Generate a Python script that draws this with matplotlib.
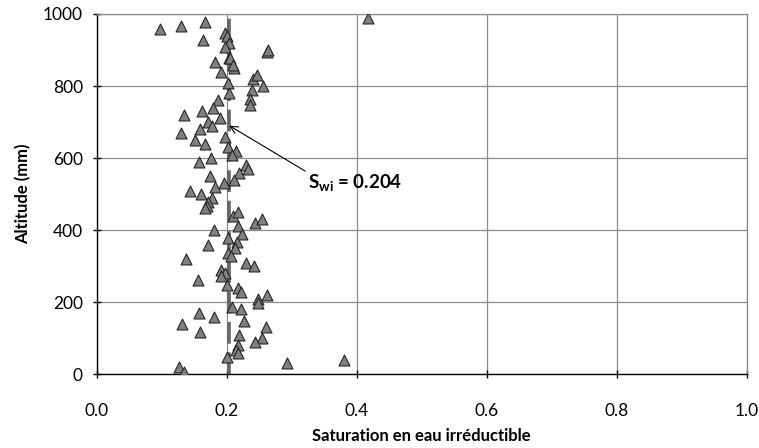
import matplotlib
matplotlib.use("Agg")
from matplotlib import pyplot as plt

# Saturation irréductible mesurée le long de la colonne
saturation = [0.098, 0.130, 0.167, 0.198, 0.200, 0.164, 0.204, 0.198, 0.204, 0.182,
              0.212, 0.205, 0.210, 0.192, 0.262, 0.264, 0.2015, 0.240, 0.246, 0.256,
              0.204, 0.239, 0.236, 0.236, 0.187, 0.135, 0.162, 0.179, 0.172, 0.177,
              0.190, 0.159, 0.130, 0.198, 0.152, 0.166, 0.2015, 0.214, 0.208, 0.176,
              0.158, 0.230, 0.233, 0.219, 0.212, 0.174, 0.196, 0.182, 0.1435, 0.160,
              0.178, 0.172, 0.169, 0.167, 0.210, 0.217, 0.2435, 0.255, 0.217, 0.181,
              0.223, 0.2025, 0.2155, 0.171, 0.2128, 0.2015, 0.2066, 0.137, 0.230, 0.2425,
              0.192, 0.197, 0.192, 0.156, 0.200, 0.217, 0.2215, 0.248, 0.248, 0.2625,
              0.208, 0.2215, 0.157, 0.181, 0.227, 0.131, 0.2605, 0.159, 0.219, 0.254,
              0.244, 0.218, 0.214, 0.218, 0.200, 0.127, 0.135, 0.293, 0.380, 0.418]
altitude = [958, 968, 978, 947, 939, 929, 920, 908, 879, 868,
            851, 877, 858, 840, 895, 900, 809, 820, 831, 800,
            780, 789, 764, 747, 761, 720, 731, 738, 699, 689,
            710, 681, 669, 659, 650, 638, 630, 620, 609, 600,
            590, 581, 570, 558, 539, 550, 530, 520, 510, 500,
            488, 477, 468, 461, 440, 450, 419, 430, 411, 400,
            389, 379, 368, 359, 350, 338, 328, 319, 310, 300,
            289, 280, 273, 262, 248, 239, 228, 209, 199, 220,
            188, 180, 169, 160, 149, 139, 130, 118, 109, 100,
            89, 81, 67, 58, 49, 19, 7, 30, 40, 990]

swi = 0.204
x_ticks = [0.0, 0.2, 0.4, 0.6, 0.8, 1.0]
y_ticks = [0, 200, 400, 600, 800, 1000]

plt.rcParams['font.family'] = ['Lato', 'DejaVu Sans']

fig = plt.figure(figsize=(7.59, 4.48), dpi=100)
ax = fig.add_axes([0.1274, 0.1645, 0.8564, 0.8043])

ax.set_xlim(0, 1)
ax.set_ylim(0, 1000)
ax.set_xticks(x_ticks)
ax.set_xticklabels(["%.1f" % v for v in x_ticks])
ax.set_yticks(y_ticks)
ax.grid(True, color="#8c8c8c", linewidth=0.9)
ax.set_axisbelow(True)

for s in ["top", "right"]:
    ax.spines[s].set_color("#8c8c8c")
    ax.spines[s].set_linewidth(0.9)
for s in ["left", "bottom"]:
    ax.spines[s].set_color("black")
    ax.spines[s].set_linewidth(1.0)
ax.tick_params(direction="inout", length=6, width=1, labelsize=12.5)
ax.tick_params(axis="x", pad=18)
ax.tick_params(axis="y", pad=7)

# ligne de la saturation moyenne
ax.plot([swi, swi], [0, 1000], color="#666666", linewidth=2.6,
        dashes=(6, 2.4), zorder=2)

ax.scatter(saturation, altitude, marker="^", s=62, facecolor="#808080",
           edgecolor="#262626", linewidth=0.8, zorder=3)

ax.annotate("S$_{\\mathregular{wi}}$ = 0.204", xy=(swi, 690), xytext=(0.325, 530),
            fontsize=13.5, fontweight="bold", va="center", ha="left",
            arrowprops=dict(arrowstyle="->", color="black", lw=0.8,
                            shrinkA=0, shrinkB=0, relpos=(0, 1)))

ax.set_xlabel("Saturation en eau irréductible", fontsize=12, fontweight="bold", labelpad=6)
ax.set_ylabel("Altitude (mm)", fontsize=12, fontweight="bold", labelpad=8)

fig.savefig("out.png", dpi=100)
